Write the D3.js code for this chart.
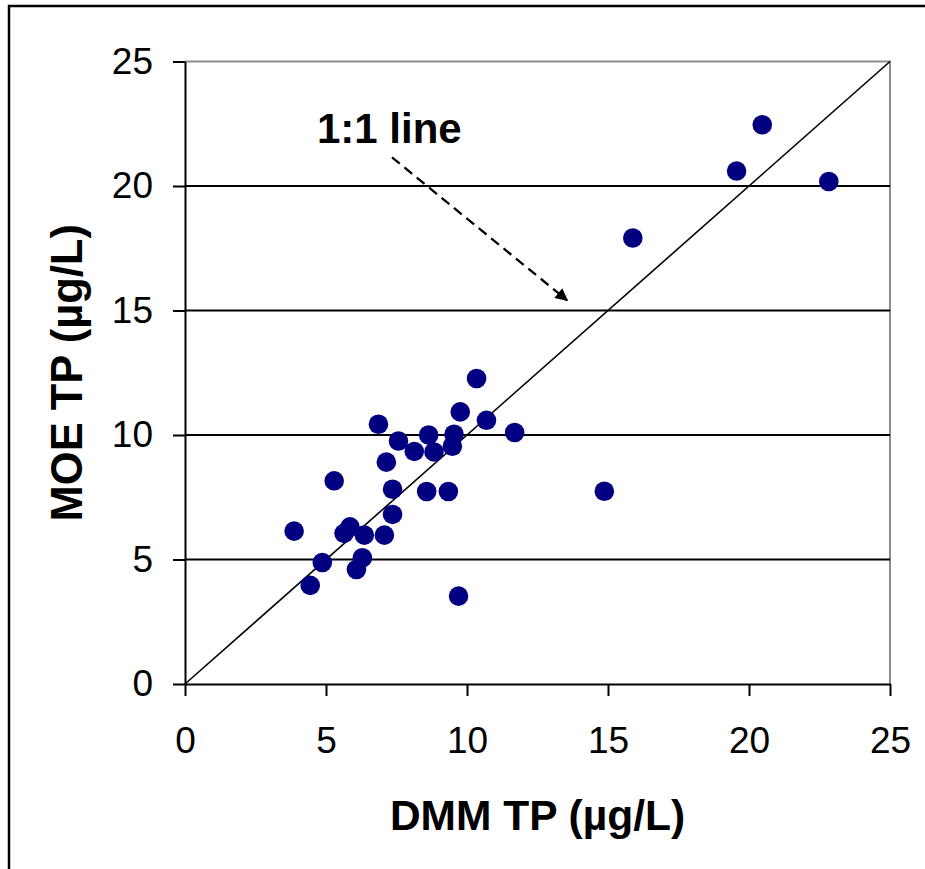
<!DOCTYPE html>
<html>
<head>
<meta charset="utf-8">
<script src="https://cdn.jsdelivr.net/npm/d3@7"></script>
<style>
  html, body { margin: 0; padding: 0; background: #fff; }
  svg { display: block; font-family: "Liberation Sans", Arial, sans-serif; }
</style>
</head>
<body>
<svg id="chart" width="925" height="869"></svg>
<script>
// ---- data ----
const dmmTP = [3.87, 4.44, 4.87, 5.29, 5.64, 5.85, 6.08, 6.29, 6.36, 6.86, 7.07, 7.14, 7.36, 7.36, 7.57, 8.13,
               8.57, 8.64, 8.83, 9.34, 9.48, 9.54, 9.70, 9.76, 10.34, 10.69, 11.69, 14.87, 15.88, 19.56, 20.47, 22.83];
const moeTP = [6.14, 3.96, 4.88, 8.16, 6.05, 6.31, 4.60, 5.07, 5.98, 10.43, 5.98, 8.91, 7.82, 6.81, 9.76, 9.34,
               7.73, 10.00, 9.32, 7.73, 9.55, 10.03, 3.53, 10.93, 12.27, 10.59, 10.10, 7.74, 17.91, 20.60, 22.46, 20.18];
const xTicks = [0, 5, 10, 15, 20, 25];
const yTicks = [0, 5, 10, 15, 20, 25];
const gridValues = [5, 10, 15, 20];
const oneToOne = [[0, 0], [25, 25]];
const annotationText = "1:1 line";
const xTitle = "DMM TP (\u00b5g/L)";
const yTitle = "MOE TP (\u00b5g/L)";

// ---- layout ----
const svg = d3.select("#chart");
const pLeft = 185, pRight = 890, pTop = 61.5, pBottom = 684;
const x = d3.scaleLinear().domain([0, 25]).range([pLeft, pRight]);
const y = d3.scaleLinear().domain([0, 25]).range([pBottom, pTop]);

// outer frame (extends beyond window right/bottom)
svg.append("rect").attr("x", 9).attr("y", 6).attr("width", 1200).attr("height", 1200)
  .attr("fill", "none").attr("stroke", "#000").attr("stroke-width", 2.5);

// plot area border (gray top & right)
svg.append("path")
  .attr("d", `M${pLeft},${y(25)}H${x(25)}V${pBottom}`)
  .attr("fill", "none").attr("stroke", "#8c8c8c").attr("stroke-width", 2);

// gridlines
svg.append("g").selectAll("line").data(gridValues).join("line")
  .attr("x1", pLeft).attr("x2", pRight)
  .attr("y1", d => y(d)).attr("y2", d => y(d))
  .attr("stroke", "#000").attr("stroke-width", 2);

// 1:1 line
svg.append("line")
  .attr("x1", x(oneToOne[0][0])).attr("y1", y(oneToOne[0][1]))
  .attr("x2", x(oneToOne[1][0])).attr("y2", y(oneToOne[1][1]))
  .attr("stroke", "#000").attr("stroke-width", 1.6);

// axes
const xAxis = d3.axisBottom(x).tickValues(xTicks).tickSize(12).tickSizeOuter(0).tickPadding(31);
const yAxis = d3.axisLeft(y).tickValues(yTicks).tickSize(12).tickSizeOuter(0).tickPadding(20);

const gx = svg.append("g").attr("transform", `translate(0,${pBottom})`).call(xAxis);
const gy = svg.append("g").attr("transform", `translate(${pLeft},0)`).call(yAxis);
[gx, gy].forEach(g => {
  g.select(".domain").attr("stroke", "#000").attr("stroke-width", 2);
  g.selectAll(".tick line").attr("stroke", "#000").attr("stroke-width", 2);
  g.selectAll(".tick text").attr("fill", "#000").attr("font-size", 37)
    .attr("font-family", "'Liberation Sans', Arial, sans-serif");
});

// points
svg.append("g").selectAll("circle").data(dmmTP.map((d, i) => [d, moeTP[i]])).join("circle")
  .attr("cx", d => x(d[0])).attr("cy", d => y(d[1])).attr("r", 9.8)
  .attr("fill", "#000080");

// annotation arrow
svg.append("defs").append("marker")
  .attr("id", "ah").attr("viewBox", "0 0 10 10").attr("refX", 9).attr("refY", 5)
  .attr("markerWidth", 6.5).attr("markerHeight", 5.5).attr("markerUnits", "strokeWidth")
  .attr("orient", "auto")
  .append("path").attr("d", "M0,0L10,5L0,10Z").attr("fill", "#000");

const arrowFrom = [7.34, 21.15], arrowTo = [13.55, 15.41];
svg.append("line")
  .attr("x1", x(arrowFrom[0])).attr("y1", y(arrowFrom[1]))
  .attr("x2", x(arrowTo[0])).attr("y2", y(arrowTo[1]))
  .attr("stroke", "#000").attr("stroke-width", 2.3)
  .attr("stroke-dasharray", "10,6")
  .attr("marker-end", "url(#ah)");

svg.append("text").attr("x", x(4.68)).attr("y", y(21.71))
  .attr("font-size", 42).attr("font-weight", "bold").attr("fill", "#000")
  .text(annotationText);

// axis titles
svg.append("text").attr("x", (pLeft + pRight) / 2).attr("y", 830)
  .attr("text-anchor", "middle").attr("font-size", 42.5).attr("font-weight", "bold")
  .text(xTitle);

svg.append("text").attr("transform", `translate(82,${(pTop + pBottom) / 2}) rotate(-90)`)
  .attr("text-anchor", "middle").attr("font-size", 43.5).attr("font-weight", "bold")
  .text(yTitle);
</script>
</body>
</html>
